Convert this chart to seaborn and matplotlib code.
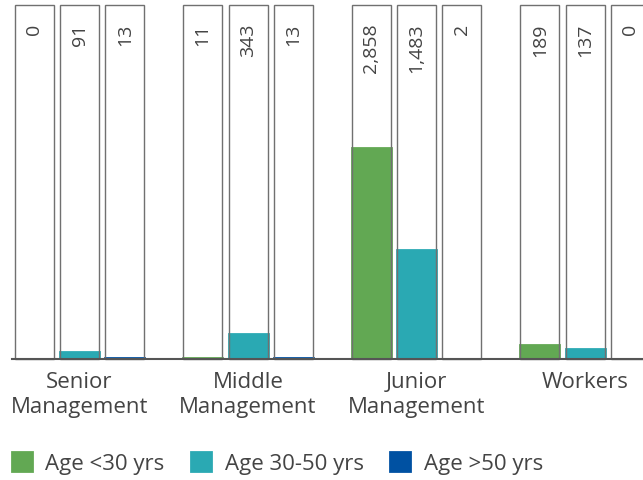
import matplotlib
matplotlib.use("Agg")
import matplotlib.pyplot as plt
import matplotlib.transforms as mtransforms
import seaborn as sns
import pandas as pd

sns.set_style("white")
plt.rcParams["font.family"] = ["Open Sans", "DejaVu Sans"]

# Headcount by management level and age band
levels = ["Senior\nManagement", "Middle\nManagement", "Junior\nManagement", "Workers"]
age_groups = ["Age <30 yrs", "Age 30-50 yrs", "Age >50 yrs"]
under_30 = [0, 11, 2858, 189]
age_30_50 = [91, 343, 1483, 137]
over_50 = [13, 13, 2, 0]

colors = ["#62a853", "#2aa9b3", "#0051a2"]
frame_color = "#707070"
text_color = "#444444"

# upper end of the value axis; each bar's frame runs up to it
SCALE_TOP = 4800

df = pd.DataFrame({
    "level": levels * 3,
    "age": [g for g in age_groups for _ in levels],
    "count": under_30 + age_30_50 + over_50,
})
df["frame"] = SCALE_TOP

fig = plt.figure(figsize=(6.43, 4.81), dpi=100)
ax = fig.add_axes([0, 121 / 481, 1, 354 / 481])

# filled bars
sns.barplot(data=df, x="level", y="count", hue="age", order=levels,
            hue_order=age_groups, palette=colors, saturation=1,
            width=0.807, gap=0.14, errorbar=None, legend=False,
            linewidth=0, ax=ax)
n_fill = len(ax.patches)
fill_bars = list(ax.patches)
handles = list(ax.containers[:3])
# same-colour edge keeps very small counts visible above the baseline
for p in fill_bars:
    p.set_edgecolor(p.get_facecolor())
    p.set_linewidth(2.0)

# outline frames around every bar
sns.barplot(data=df, x="level", y="frame", hue="age", order=levels,
            hue_order=age_groups, palette=[frame_color] * 3, saturation=1,
            width=0.807, gap=0.14, errorbar=None, legend=False,
            fill=False, linewidth=1.0, ax=ax)
for p in ax.patches[n_fill:]:
    p.set_clip_on(False)

ax.set_ylim(0, SCALE_TOP)
ax.set_xlim(-0.4718, 3.344)

# value labels, rotated at the top of each frame
trans = mtransforms.blended_transform_factory(ax.transData, ax.transAxes)
for bar in fill_bars:
    v = bar.get_height()
    ax.text(bar.get_x() + bar.get_width() / 2, 0.95, f"{v:,.0f}",
            transform=trans, rotation=90, ha="center", va="top",
            fontsize=14, color=text_color)

ax.set_xlabel("")
ax.set_ylabel("")
ax.set_yticks([])
for side in ["left", "right", "top"]:
    ax.spines[side].set_visible(False)
ax.spines["bottom"].set_color("#555555")
ax.spines["bottom"].set_linewidth(1.5)
ax.spines["bottom"].set_bounds(-0.4006, 3.344)
ax.spines["bottom"].set_zorder(5)
ax.tick_params(axis="x", length=0, pad=9, labelsize=16, labelcolor=text_color)

leg = fig.legend(handles, age_groups, loc="center left",
                 bbox_to_anchor=(12 / 643, 17 / 481), ncol=3, frameon=False,
                 fontsize=16, handlelength=0.9, handleheight=0.9,
                 handletextpad=0.6, columnspacing=1.2, borderpad=0,
                 borderaxespad=0)
for t in leg.get_texts():
    t.set_color(text_color)

fig.savefig("out.png", dpi=100, facecolor="white")
